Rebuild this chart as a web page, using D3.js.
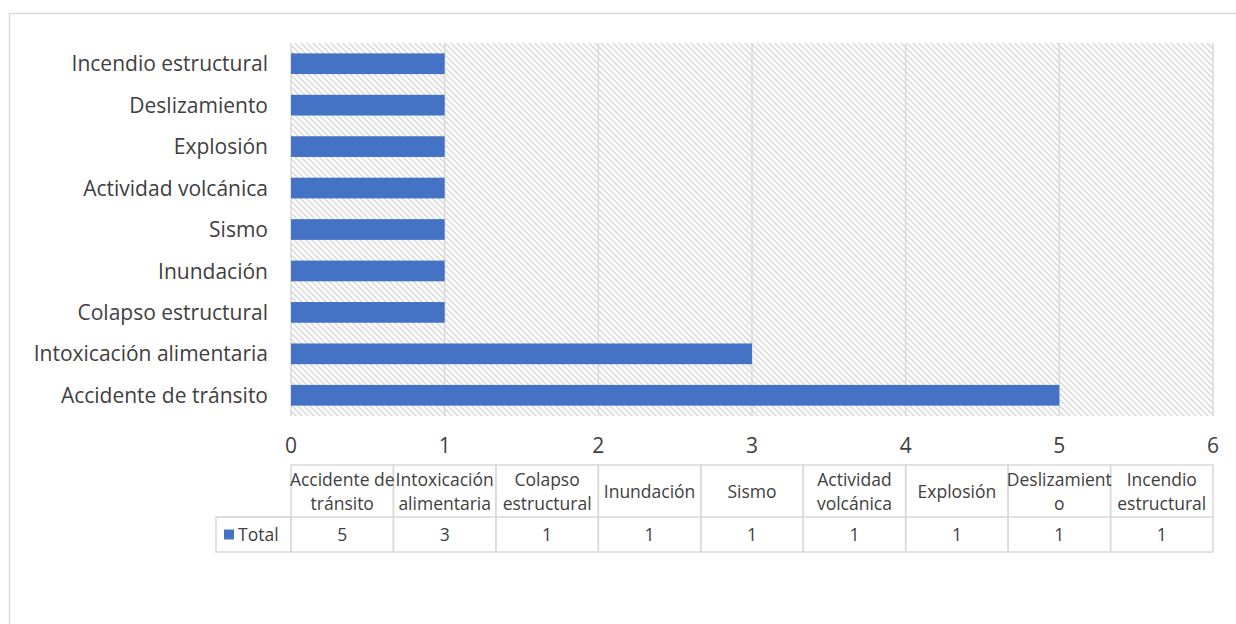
<!DOCTYPE html>
<html>
<head>
<meta charset="utf-8">
<script src="https://cdn.jsdelivr.net/npm/d3@7"></script>
<style>
  body { margin: 0; background: #fff; }
  svg { display: block; font-family: "Open Sans", Lato, sans-serif; }
</style>
</head>
<body>
<svg id="chart" width="1236" height="624"></svg>
<script>
// categories bottom -> top as in the table
const categories = [
  "Accidente de tránsito",
  "Intoxicación alimentaria",
  "Colapso estructural",
  "Inundación",
  "Sismo",
  "Actividad volcánica",
  "Explosión",
  "Deslizamiento",
  "Incendio estructural"
];
const totals = [5, 3, 1, 1, 1, 1, 1, 1, 1];
const xTicks = [0, 1, 2, 3, 4, 5, 6];
// header text as wrapped in the data table
const headerLines = [
  ["Accidente de", "tránsito"],
  ["Intoxicación", "alimentaria"],
  ["Colapso", "estructural"],
  ["Inundación"],
  ["Sismo"],
  ["Actividad", "volcánica"],
  ["Explosión"],
  ["Deslizamient", "o"],
  ["Incendio", "estructural"]
];
const seriesName = "Total";

const svg = d3.select("#chart");
const BLUE = "#4472c4";
const GRID = "#d9d9d9";
const TEXT = "#404040";

// chart frame
svg.append("rect")
  .attr("x", 9.5).attr("y", 13.5)
  .attr("width", 1300).attr("height", 700)
  .attr("fill", "#fff").attr("stroke", GRID).attr("stroke-width", 1.5);

const plot = { left: 291, right: 1213, top: 43, bottom: 416 };

const x = d3.scaleLinear().domain([0, 6]).range([plot.left, plot.right]);
const y = d3.scaleBand()
  .domain(categories.slice().reverse())
  .range([plot.top, plot.bottom])
  .paddingInner(0.5).paddingOuter(0.25);

// hatch fill
const defs = svg.append("defs");
const pat = defs.append("pattern")
  .attr("id", "hatch")
  .attr("patternUnits", "userSpaceOnUse")
  .attr("width", 6).attr("height", 6);
pat.append("path")
  .attr("d", "M-1,-1 L7,7 M-1,5 L1,7 M5,-1 L7,1")
  .attr("stroke", "#dcdcdc").attr("stroke-width", 1.6);

svg.append("rect")
  .attr("x", plot.left).attr("y", plot.top)
  .attr("width", plot.right - plot.left).attr("height", plot.bottom - plot.top)
  .attr("fill", "url(#hatch)");

// vertical gridlines
svg.append("g")
  .selectAll("line")
  .data(xTicks)
  .join("line")
  .attr("x1", d => x(d)).attr("x2", d => x(d))
  .attr("y1", plot.top).attr("y2", plot.bottom)
  .attr("stroke", GRID).attr("stroke-width", 1.5);

// bars
svg.append("g")
  .selectAll("rect")
  .data(categories)
  .join("rect")
  .attr("x", x(0))
  .attr("y", d => y(d))
  .attr("width", (d, i) => x(totals[i]) - x(0))
  .attr("height", y.bandwidth())
  .attr("fill", BLUE);

// category labels
svg.append("g")
  .selectAll("text")
  .data(categories)
  .join("text")
  .attr("x", 268)
  .attr("y", d => y(d) + y.bandwidth() / 2)
  .attr("dy", "0.36em")
  .attr("text-anchor", "end")
  .attr("font-size", 21)
  .attr("fill", TEXT)
  .text(d => d);

// x tick labels
svg.append("g")
  .selectAll("text")
  .data(xTicks)
  .join("text")
  .attr("x", d => x(d))
  .attr("y", 445)
  .attr("dy", "0.36em")
  .attr("text-anchor", "middle")
  .attr("font-size", 21)
  .attr("fill", TEXT)
  .text(d => d);

// data table
const tbl = { top: 465, mid: 517, bottom: 552, left: 216 };
const col = d3.scaleBand().domain(categories).range([plot.left, plot.right]);
const colW = col.bandwidth();
const tg = svg.append("g");

tg.append("g")
  .selectAll("rect")
  .data(categories)
  .join("rect")
  .attr("x", d => col(d))
  .attr("y", tbl.top)
  .attr("width", colW).attr("height", tbl.bottom - tbl.top)
  .attr("fill", "none").attr("stroke", GRID).attr("stroke-width", 1.5);

tg.append("line")
  .attr("x1", tbl.left).attr("x2", plot.right)
  .attr("y1", tbl.mid).attr("y2", tbl.mid)
  .attr("stroke", GRID).attr("stroke-width", 1.5);
tg.append("rect")
  .attr("x", tbl.left).attr("y", tbl.mid)
  .attr("width", plot.left - tbl.left).attr("height", tbl.bottom - tbl.mid)
  .attr("fill", "none").attr("stroke", GRID).attr("stroke-width", 1.5);

// header cells
tg.append("g")
  .selectAll("text")
  .data(headerLines)
  .join("text")
  .attr("x", (d, i) => col(categories[i]) + colW / 2)
  .attr("y", d => (tbl.top + tbl.mid) / 2 + 1 - (d.length - 1) * 12)
  .attr("text-anchor", "middle")
  .attr("font-size", 17.5)
  .attr("fill", TEXT)
  .each(function (d) {
    const t = d3.select(this);
    d.forEach((line, k) => {
      t.append("tspan")
        .attr("x", t.attr("x"))
        .attr("dy", k === 0 ? "0.36em" : 24)
        .text(line);
    });
  });

// value cells
tg.append("g")
  .selectAll("text")
  .data(totals)
  .join("text")
  .attr("x", (d, i) => col(categories[i]) + colW / 2)
  .attr("y", (tbl.mid + tbl.bottom) / 2)
  .attr("dy", "0.36em")
  .attr("text-anchor", "middle")
  .attr("font-size", 17.5)
  .attr("fill", TEXT)
  .text(d => d);

// legend key + series name
tg.append("rect")
  .attr("x", 224).attr("y", (tbl.mid + tbl.bottom) / 2 - 5)
  .attr("width", 10).attr("height", 10)
  .attr("fill", BLUE);
tg.append("text")
  .attr("x", 238)
  .attr("y", (tbl.mid + tbl.bottom) / 2)
  .attr("dy", "0.36em")
  .attr("font-size", 17.5)
  .attr("fill", TEXT)
  .text(seriesName);
</script>
</body>
</html>
